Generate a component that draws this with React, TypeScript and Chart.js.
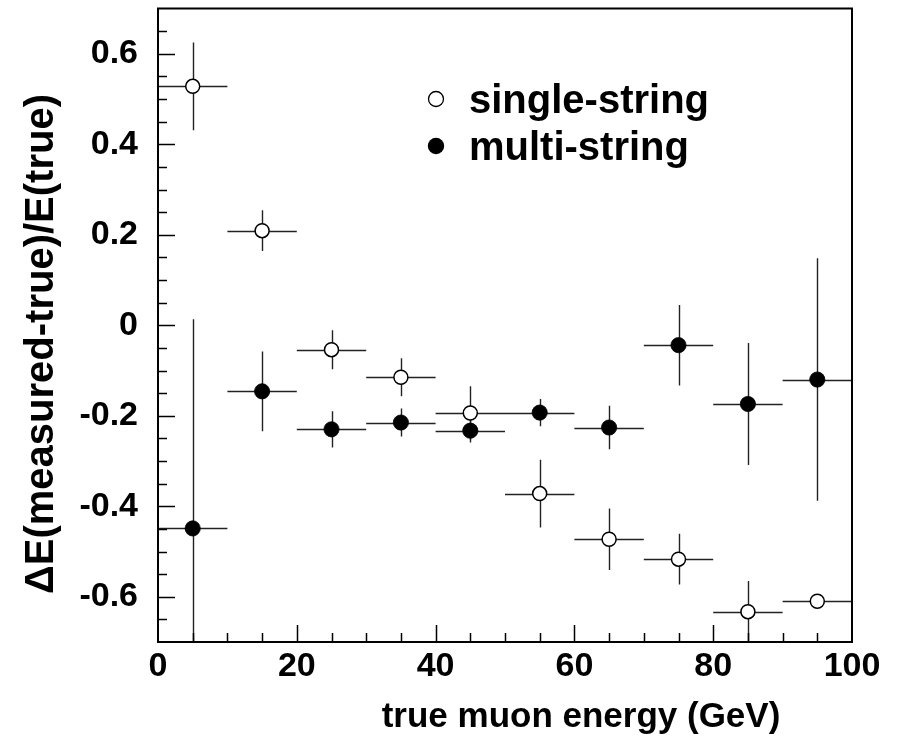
import { useEffect, useRef } from 'react';
import { Chart, registerables } from 'chart.js';

Chart.register(...registerables);

// ---- data ----
const energyBins = [5, 15, 25, 35, 45, 55, 65, 75, 85, 95];
const binHalfWidths = [5, 5, 5, 5, 5, 5, 5, 5, 5, 5];
const singleValues = [0.528, 0.209, -0.054, -0.115, -0.194, -0.372, -0.473, -0.517, -0.633, -0.61];
const singleErrors = [0.097, 0.045, 0.043, 0.042, 0.059, 0.075, 0.068, 0.056, 0.068, 0.012];
const multiValues = [-0.449, -0.146, -0.23, -0.215, -0.233, -0.193, -0.226, -0.044, -0.174, -0.12];
const multiErrors = [0.462, 0.088, 0.04, 0.031, 0.026, 0.03, 0.048, 0.089, 0.135, 0.268];

const xTickValues = [0, 20, 40, 60, 80, 100];
const xTickLabels = ['0', '20', '40', '60', '80', '100'];
const yTickValues = [-0.6, -0.4, -0.2, 0, 0.2, 0.4, 0.6];
const yTickLabels = ['-0.6', '-0.4', '-0.2', '0', '0.2', '0.4', '0.6'];

const seriesLabels = ['single-string', 'multi-string'];
const xTitle = 'true muon energy (GeV)';
const yTitle = '\u0394E(measured-true)/E(true)';

const FONT = '"Liberation Sans", Arial, Helvetica, sans-serif';

const decorPlugin = {
  id: 'decor',
  beforeDatasetsDraw(chart: any) {
    const { ctx, chartArea: a, scales } = chart;
    const x = scales.x;
    const y = scales.y;
    ctx.save();
    ctx.beginPath();
    ctx.rect(a.left, a.top, a.right - a.left, a.bottom - a.top);
    ctx.clip();
    ctx.strokeStyle = '#222';
    ctx.lineWidth = 1.4;
    const bars = (vals: number[], errs: number[]) => {
      for (let i = 0; i < energyBins.length; i++) {
        const px = Math.round(x.getPixelForValue(energyBins[i])) + 0.5;
        const py = Math.round(y.getPixelForValue(vals[i])) + 0.5;
        const x0 = x.getPixelForValue(energyBins[i] - binHalfWidths[i]);
        const x1 = x.getPixelForValue(energyBins[i] + binHalfWidths[i]);
        const y0 = y.getPixelForValue(vals[i] + errs[i]);
        const y1 = y.getPixelForValue(vals[i] - errs[i]);
        ctx.beginPath();
        ctx.moveTo(x0, py);
        ctx.lineTo(x1, py);
        ctx.moveTo(px, y0);
        ctx.lineTo(px, y1);
        ctx.stroke();
      }
    };
    bars(singleValues, singleErrors);
    bars(multiValues, multiErrors);
    ctx.restore();
  },
  afterDraw(chart: any) {
    const { ctx, chartArea: a, scales } = chart;
    const x = scales.x;
    const y = scales.y;
    ctx.save();
    // frame
    ctx.strokeStyle = '#000';
    ctx.lineWidth = 2;
    ctx.strokeRect(a.left, a.top, a.right - a.left, a.bottom - a.top);
    // ticks
    ctx.lineWidth = 1.5;
    ctx.beginPath();
    for (let k = 1; k < 20; k++) {
      const v = k * 5;
      const len = k % 4 === 0 ? 17 : 9;
      const px = Math.round(x.getPixelForValue(v)) + 0.5;
      ctx.moveTo(px, a.bottom);
      ctx.lineTo(px, a.bottom - len);
    }
    for (let k = -13; k <= 13; k++) {
      const v = k * 0.05;
      const len = k % 4 === 0 ? 17 : 9;
      const py = Math.round(y.getPixelForValue(v)) + 0.5;
      ctx.moveTo(a.left, py);
      ctx.lineTo(a.left + len, py);
    }
    ctx.stroke();

    // axis titles
    ctx.fillStyle = '#000';
    ctx.font = `bold 35px ${FONT}`;
    ctx.textAlign = 'center';
    ctx.textBaseline = 'alphabetic';
    ctx.fillText(xTitle, 581, 727);

    ctx.save();
    ctx.translate(53, 344);
    ctx.rotate(-Math.PI / 2);
    ctx.font = `bold 40px ${FONT}`;
    ctx.textAlign = 'center';
    ctx.textBaseline = 'alphabetic';
    ctx.fillText(yTitle, 0, 0);
    ctx.restore();

    // legend
    ctx.beginPath();
    ctx.arc(436, 99, 7.5, 0, Math.PI * 2);
    ctx.fillStyle = '#fff';
    ctx.fill();
    ctx.lineWidth = 1.3;
    ctx.strokeStyle = '#000';
    ctx.stroke();
    ctx.beginPath();
    ctx.arc(436, 146, 8.2, 0, Math.PI * 2);
    ctx.fillStyle = '#000';
    ctx.fill();

    ctx.font = `bold 40px ${FONT}`;
    ctx.textAlign = 'left';
    ctx.textBaseline = 'alphabetic';
    ctx.fillText(seriesLabels[0], 469, 113);
    ctx.fillText(seriesLabels[1], 469, 160);
    ctx.restore();
  },
};

export default function App() {
  const canvasRef = useRef<HTMLCanvasElement | null>(null);

  useEffect(() => {
    document.body.style.margin = '0';
    const canvas = canvasRef.current;
    if (!canvas) return;
    const chart = new Chart(canvas, {
      type: 'scatter',
      data: {
        datasets: [
          {
            label: seriesLabels[1],
            data: energyBins.map((e, i) => ({ x: e, y: multiValues[i] })),
            pointRadius: 7.6,
            pointBackgroundColor: '#000',
            pointBorderColor: '#000',
            pointBorderWidth: 0.8,
            order: 0,
          },
          {
            label: seriesLabels[0],
            data: energyBins.map((e, i) => ({ x: e, y: singleValues[i] })),
            pointRadius: 7,
            pointBackgroundColor: '#fff',
            pointBorderColor: '#000',
            pointBorderWidth: 1.5,
            order: 1,
          },
        ],
      },
      options: {
        responsive: false,
        animation: false,
        devicePixelRatio: 1,
        layout: { padding: { top: 7, right: 47, left: 0, bottom: 0 } },
        plugins: {
          legend: { display: false },
          tooltip: { enabled: false },
          title: { display: false },
        },
        scales: {
          x: {
            type: 'linear',
            min: 0,
            max: 100,
            grid: { display: false, drawTicks: false },
            border: { display: false },
            afterBuildTicks: (scale: any) => {
              scale.ticks = xTickValues.map((v) => ({ value: v }));
            },
            afterFit: (scale: any) => {
              scale.height = 98;
              scale.paddingLeft = 0;
              scale.paddingRight = 0;
            },
            ticks: {
              padding: 4,
              maxRotation: 0,
              autoSkip: false,
              color: '#000',
              font: { family: FONT, size: 34, weight: 'bold' },
              callback: (_v: any, i: number) => xTickLabels[i],
            },
          },
          y: {
            type: 'linear',
            min: -0.7,
            max: 0.7,
            grid: { display: false, drawTicks: false },
            border: { display: false },
            afterBuildTicks: (scale: any) => {
              scale.ticks = yTickValues.map((v) => ({ value: v }));
            },
            afterFit: (scale: any) => {
              scale.width = 158;
              scale.paddingTop = 0;
              scale.paddingBottom = 0;
            },
            ticks: {
              padding: 20,
              autoSkip: false,
              color: '#000',
              font: { family: FONT, size: 34, weight: 'bold' },
              callback: (_v: any, i: number) => yTickLabels[i],
            },
          },
        },
      },
      plugins: [decorPlugin],
    } as any);
    return () => chart.destroy();
  }, []);

  return (
    <div style={{ position: 'absolute', left: 0, top: 0, width: 899, height: 740, background: '#fff' }}>
      <canvas ref={canvasRef} width={899} height={740} style={{ display: 'block' }} />
    </div>
  );
}
